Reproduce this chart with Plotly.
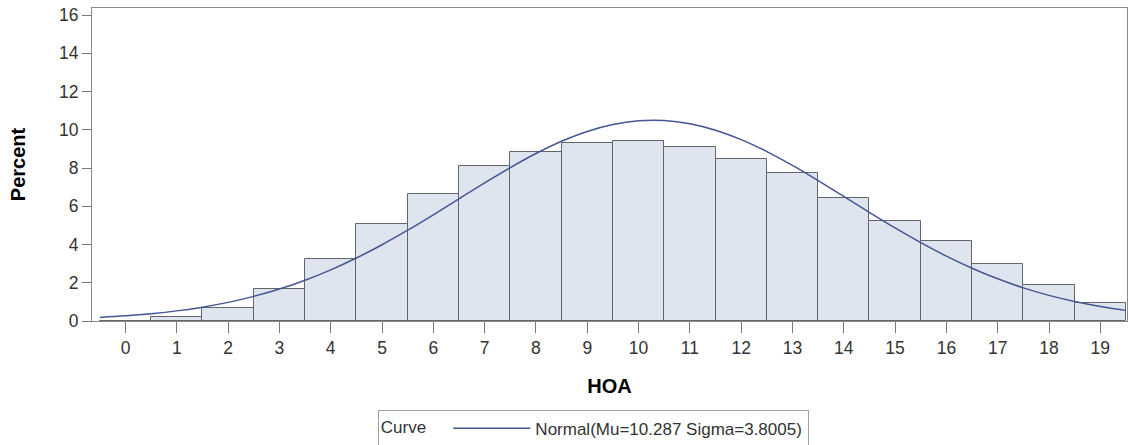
import plotly.graph_objects as go

# Histogram bins (midpoints) and percent per bin
hoa_bins = list(range(0, 20))
percent = [0.0, 0.19, 0.66, 1.67, 3.22, 5.09, 6.64, 8.12, 8.85, 9.32,
           9.39, 9.08, 8.45, 7.72, 6.45, 5.24, 4.17, 2.96, 1.88, 0.93]

# Fitted normal curve points
curve_x = [-0.5, 0, 0.5, 1, 1.5, 2, 2.5, 3, 3.5, 4, 4.5, 5, 5.5, 6, 6.5, 7, 7.5,
           8, 8.5, 9, 9.5, 10, 10.5, 11, 11.5, 12, 12.5, 13, 13.5, 14, 14.5,
           15, 15.5, 16, 16.5, 17, 17.5, 18, 18.5, 19, 19.5]
curve_y = [0.187, 0.269, 0.381, 0.530, 0.725, 0.974, 1.287, 1.670, 2.131, 2.672,
           3.293, 3.989, 4.749, 5.556, 6.390, 7.222, 8.022, 8.759, 9.399, 9.912,
           10.274, 10.467, 10.481, 10.314, 9.976, 9.483, 8.860, 8.136, 7.343,
           6.513, 5.679, 4.866, 4.098, 3.392, 2.759, 2.206, 1.734, 1.339, 1.016,
           0.758, 0.556]

curve_name = "Normal(Mu=10.287 Sigma=3.8005)"
y_ticks = [0, 2, 4, 6, 8, 10, 12, 14, 16]

FONT = "Liberation Sans, Arial, sans-serif"
TXT = "#333333"

fig = go.Figure()
fig.add_trace(go.Bar(
    x=hoa_bins, y=percent, width=1,
    marker=dict(color="#DFE5EF", line=dict(color="#62666C", width=1)),
    showlegend=False, hoverinfo="x+y",
))
fig.add_trace(go.Scatter(
    x=curve_x, y=curve_y, mode="lines", name=curve_name,
    line=dict(color="#445694", width=1.5, shape="spline"),
))

fig.update_layout(
    width=1128, height=445,
    margin=dict(l=92, r=1, t=8, b=124, autoexpand=False),
    paper_bgcolor="white", plot_bgcolor="white",
    font=dict(family=FONT, size=17, color=TXT),
    bargap=0,
    legend=dict(
        orientation="h",
        xref="container", x=0.526, xanchor="center",
        yref="container", y=0.0795, yanchor="top",
        bordercolor="#A0A0A0", borderwidth=1,
        font=dict(family=FONT, size=17, color=TXT),
        title=dict(text="Curve   ", side="left",
                   font=dict(family=FONT, size=17, color=TXT)),
        itemwidth=77,
        tracegroupgap=0,
    ),
    xaxis=dict(
        range=[-0.653, 19.52], automargin=False,
        tickmode="array", tickvals=hoa_bins, ticktext=[str(v) for v in hoa_bins],
        ticks="outside", ticklen=11, tickcolor="#777777",
        showline=True, linecolor="#8A8A8A", linewidth=1, mirror=True,
        showgrid=False, zeroline=False,
        tickfont=dict(family=FONT, size=17.5, color=TXT),
        title=dict(text="<b>HOA</b>", standoff=21,
                   font=dict(family=FONT, size=20, color="#000000")),
    ),
    yaxis=dict(
        range=[0, 16.37], automargin=False,
        tickmode="array", tickvals=y_ticks,
        ticks="outside", ticklen=9, tickcolor="#777777",
        showline=True, linecolor="#8A8A8A", linewidth=1, mirror=True,
        showgrid=False, zeroline=False,
        tickfont=dict(family=FONT, size=17.5, color=TXT),
        title=dict(text="<b>Percent</b>", standoff=28,
                   font=dict(family=FONT, size=20, color="#000000")),
    ),
)

fig.write_html(
    "out.html",
    config={"displayModeBar": False},
    post_script="document.body.style.margin='0';document.body.style.overflow='hidden';",
)
